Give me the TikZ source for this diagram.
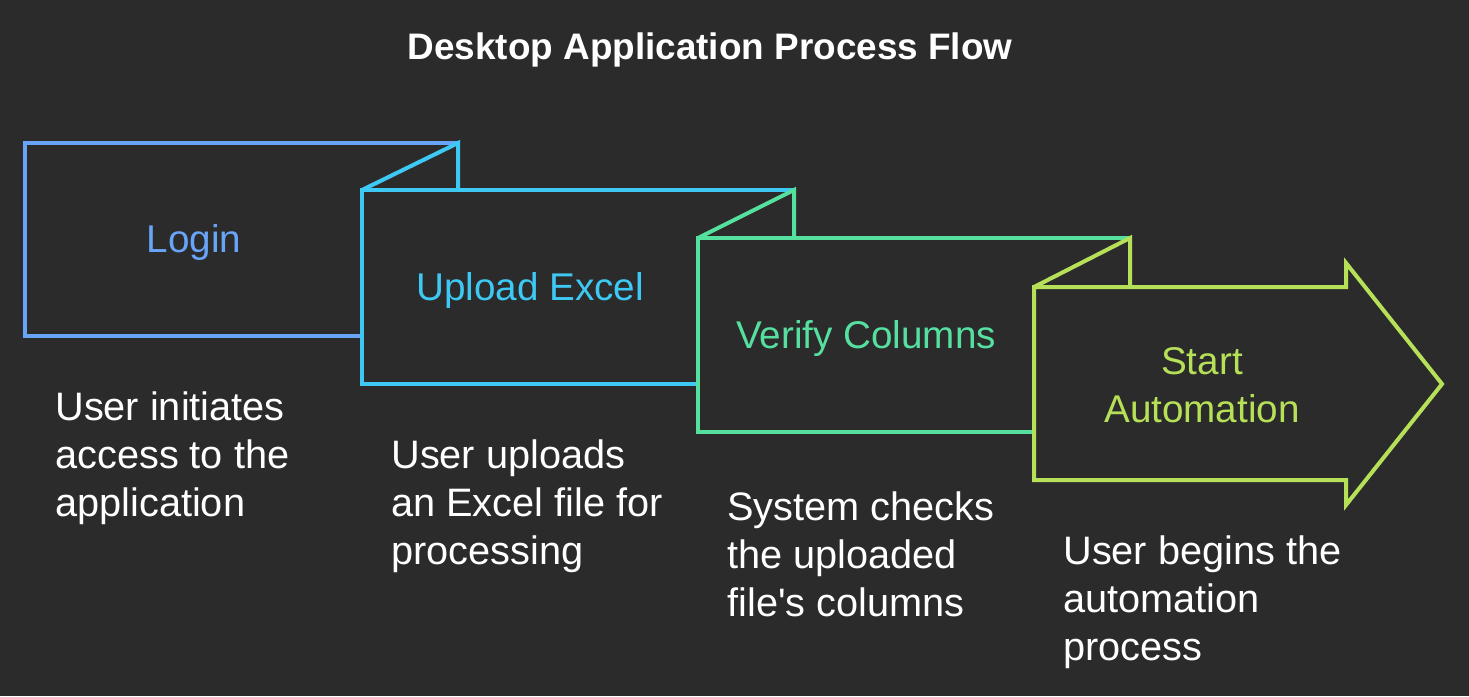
\documentclass[tikz,border=0pt]{standalone}
\usepackage{fontspec}
\setmainfont{Liberation Sans}
\usetikzlibrary{positioning}

\definecolor{bgdark}{HTML}{2B2B2B}
\definecolor{loginblue}{HTML}{68A4F8}
\definecolor{uploadcyan}{HTML}{3EC8F4}
\definecolor{verifygreen}{HTML}{55E0A0}
\definecolor{startlime}{HTML}{B6E058}

\begin{document}
\begin{tikzpicture}[
    x=0.02cm, y=-0.02cm,
    stepline/.style={line width=0.08cm, line join=miter},
    steplabel/.style={font=\fontsize{22}{27}\selectfont, text centered, align=center},
    desc/.style={anchor=west, align=left, inner xsep=0pt, text=white, font=\fontsize{22.6}{27.3}\selectfont},
    title/.style={text=white, font=\fontsize{21}{25}\selectfont\bfseries}
]
% background and page size
\fill[bgdark] (0,0) rectangle (1469,696);
\useasboundingbox (0,0) rectangle (1469,696);

\node (head) [title] at (710,50) {Desktop Application Process Flow};

% Login
\draw [stepline, loginblue] (458,143) -- (25,143) -- (25,336) -- (362,336);
% Upload Excel
\draw [stepline, uploadcyan] (794,190) -- (362,190) -- (362,384) -- (698,384);
\draw [stepline, uploadcyan] (362,190) -- (458,143) -- (458,190);
% Verify Columns
\draw [stepline, verifygreen] (1130,238) -- (698,238) -- (698,432) -- (1034,432);
\draw [stepline, verifygreen] (698,238) -- (794,190) -- (794,238);
% Start Automation
\draw [stepline, startlime] (1034,287) -- (1034,480) -- (1346,480) -- (1346,505)
    -- (1442,384) -- (1346,263) -- (1346,287) -- cycle;
\draw [stepline, startlime] (1034,287) -- (1130,238) -- (1130,287);

\node (login) [steplabel, text=loginblue] at (194,243) {Login};
\node (upload) [steplabel, text=uploadcyan] at (530,291) {Upload Excel};
\node (verify) [steplabel, text=verifygreen] at (866,339) {Verify Columns};
\node (start) [steplabel, text=startlime] at (1202,385) {Start\\Automation};

\node (logindesc) [desc] at (55,458) {User initiates\\access to the\\application};
\node (uploaddesc) [desc] at (391,506) {User uploads\\an Excel file for\\processing};
\node (verifydesc) [desc] at (727,554) {System checks\\the uploaded\\file\textquotesingle s columns};
\node (startdesc) [desc] at (1063,602) {User begins the\\automation\\process};
\end{tikzpicture}
\end{document}
